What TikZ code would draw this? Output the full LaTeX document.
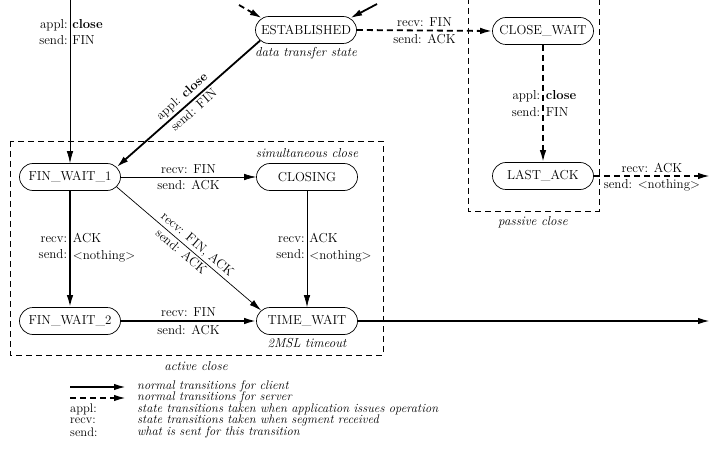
\documentclass[tikz,border=0pt]{standalone}
\usepackage{fontspec}
\usetikzlibrary{arrows.meta,shapes.misc}
\begin{document}
\begin{tikzpicture}[x=1pt,y=-1pt,
  state/.style={draw, rounded rectangle, minimum width=104pt, minimum height=27pt, inner sep=1.5pt, line width=0.7pt, font=\fontsize{13}{16}\selectfont},
  cliarrow/.style={line width=1.8pt, -{Latex[length=12pt,width=6.5pt]}},
  thinarrow/.style={line width=0.7pt, -{Latex[length=12pt,width=6.5pt]}},
  srvarrow/.style={line width=1.8pt, dash pattern=on 6pt off 4pt, -{Latex[length=12pt,width=6.5pt]}},
  region/.style={line width=0.7pt, dash pattern=on 6pt off 4pt},
  lbl/.style={font=\fontsize{13}{16.5}\selectfont, inner sep=2pt},
  note/.style={font=\fontsize{13}{15}\selectfont\itshape, inner sep=0pt},
  leg/.style={font=\fontsize{12.5}{14}\selectfont, inner sep=0pt, anchor=west},
  legit/.style={leg, font=\fontsize{12.5}{14}\selectfont\itshape}
]
\useasboundingbox (0,0) rectangle (711,462);

% regions
\draw[region] (468,-2) -- (468,211) -- (599,211) -- (599,-2);
\draw[region] (10,141) rectangle (383,355);

% states
\node[state] (est) at (306,30) {ESTABLISHED};
\node[state] (cw)  at (543,31) {CLOSE\_WAIT};
\node[state] (la)  at (543,176) {LAST\_ACK};
\node[state] (fw1) at (70,177) {FIN\_WAIT\_1};
\node[state] (cl)  at (307,177) {CLOSING};
\node[state] (fw2) at (70,321) {FIN\_WAIT\_2};
\node[state] (tw)  at (307,321) {TIME\_WAIT};

% notes
\node[note] (n1) at (306,53) {data transfer state};
\node[note] (n2) at (307,153) {simultaneous close};
\node[note] (n3) at (307,343) {2MSL timeout};
\node[note] (n4) at (533,222) {passive close};
\node[note] (n5) at (196,366) {active close};

% free ends
\coordinate (tl) at (239,5);
\coordinate (tr) at (377,4);
\coordinate (top) at (70,-2);
\coordinate (rt1) at (710,176);
\coordinate (rt2) at (710,321);

% incoming to ESTABLISHED
\draw[srvarrow] (tl) -- (est.165);
\draw[cliarrow] (tr) -- (est.15);

% connectors
\draw[thinarrow] (top) -- (fw1.north)
  node[pos=0.205, anchor=east, align=right, lbl] {appl:\\send:}
  node[pos=0.205, anchor=west, align=left, lbl] {\textbf{close}\\FIN};

\draw[cliarrow] (est.193) -- (fw1.12)
  node[midway, sloped, above, lbl, inner sep=2.5pt] {appl: \textbf{close}}
  node[midway, sloped, below, lbl, inner sep=2.5pt] {send: FIN};

\draw[srvarrow] (est.east) -- (cw.west)
  node[midway, above, lbl, inner sep=2.5pt] {recv: FIN}
  node[midway, below, lbl, inner sep=2.5pt] {send: ACK};

\draw[srvarrow] (cw.south) -- (la.north)
  node[pos=0.5, anchor=east, align=right, lbl] {appl:\\send:}
  node[pos=0.5, anchor=west, align=left, lbl] {\textbf{close}\\FIN};

\draw[srvarrow] (la.east) -- (rt1)
  node[midway, above, lbl, inner sep=2.5pt] {recv: ACK}
  node[midway, below, lbl, inner sep=2.5pt] {send: <nothing>};

\draw[thinarrow] (fw1.east) -- (cl.west)
  node[midway, above, lbl, inner sep=3pt] {recv: FIN}
  node[midway, below, lbl, inner sep=3pt] {send: ACK};

\draw[cliarrow] (fw1.south) -- (fw2.north)
  node[pos=0.49, anchor=east, align=right, lbl] {recv:\\send:}
  node[pos=0.49, anchor=west, align=left, lbl] {ACK\\<nothing>};

\draw[thinarrow] (cl.south) -- (tw.north)
  node[pos=0.49, anchor=east, align=right, lbl] {recv:\\send:}
  node[pos=0.49, anchor=west, align=left, lbl] {ACK\\<nothing>};

\draw[thinarrow] (fw1.-12) -- (tw.167)
  node[pos=0.52, sloped, above, lbl, inner sep=2pt] {recv: FIN, ACK}
  node[pos=0.48, sloped, below, lbl, inner sep=2pt] {send: ACK};

\draw[cliarrow] (fw2.east) -- (tw.west)
  node[midway, above, lbl, inner sep=3pt] {recv: FIN}
  node[midway, below, lbl, inner sep=3pt] {send: ACK};

\draw[cliarrow] (tw.east) -- (rt2);

% legend
\coordinate (la1) at (70,387);
\coordinate (lb1) at (126,387);
\coordinate (la2) at (70,398);
\coordinate (lb2) at (126,398);
\draw[cliarrow] (la1) -- (lb1);
\draw[srvarrow] (la2) -- (lb2);
\node[legit] (t1) at (137,386) {normal transitions for client};
\node[legit] (t2) at (137,397.5) {normal transitions for server};
\node[leg]   (k3) at (70,409) {appl:};
\node[legit] (t3) at (137,409) {state transitions taken when application issues operation};
\node[leg]   (k4) at (70,420.5) {recv:};
\node[legit] (t4) at (137,420.5) {state transitions taken when segment received};
\node[leg]   (k5) at (70,432) {send:};
\node[legit] (t5) at (137,432) {what is sent for this transition};
\end{tikzpicture}
\end{document}
